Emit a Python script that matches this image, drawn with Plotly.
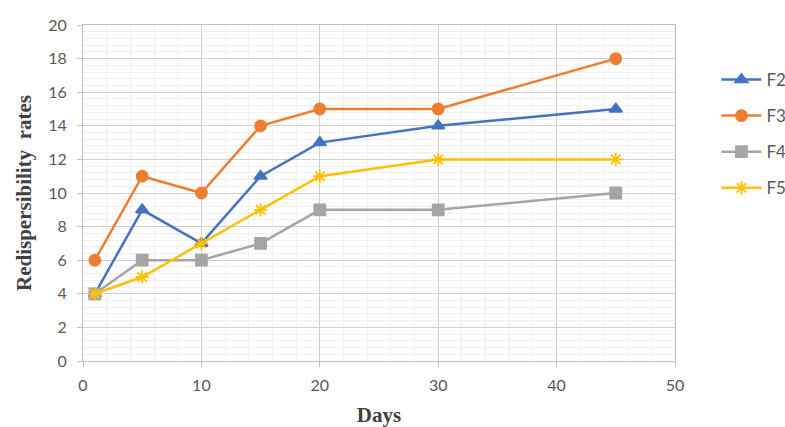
import plotly.graph_objects as go

# Storage time (days) and redispersibility readings per formulation
days = [1, 5, 10, 15, 20, 30, 45]
f2 = [4, 9, 7, 11, 13, 14, 15]
f3 = [6, 11, 10, 14, 15, 15, 18]
f4 = [4, 6, 6, 7, 9, 9, 10]
f5 = [4, 5, 7, 9, 11, 12, 12]

series = [
    ("F2", f2, "#4472C4", "triangle-up", 11),
    ("F3", f3, "#ED7D31", "circle", 11),
    ("F4", f4, "#A5A5A5", "square", 11),
    ("F5", f5, "#FFC000", "asterisk-open", 11),
]

fig = go.Figure()
for name, vals, color, symbol, size in series:
    fig.add_trace(go.Scatter(
        x=days, y=vals, name=name, legendgroup=name, mode="lines+markers",
        line=dict(color=color, width=2.5),
        marker=dict(symbol=symbol, size=size, color=color,
                    line=dict(color=color, width=1.8)),
    ))

tick_font = dict(family="Lato, Liberation Sans, sans-serif", size=16, color="#595959")
title_font = dict(family="Liberation Serif, Times New Roman, serif", size=21, color="#404040")

fig.update_layout(
    width=785, height=427,
    margin=dict(l=83, r=110, t=25, b=66, autoexpand=False),
    paper_bgcolor="white", plot_bgcolor="white",
    legend=dict(x=1.07, y=0.89, xanchor="left", yanchor="top",
                font=dict(family="Lato, Liberation Sans, sans-serif", size=17, color="#595959"),
                tracegroupgap=11, itemwidth=40, bgcolor="rgba(0,0,0,0)"),
)
fig.update_xaxes(
    range=[0, 50], dtick=10, tick0=0,
    showgrid=True, gridcolor="#d0d0d0", gridwidth=1,
    minor=dict(dtick=2, showgrid=True, gridcolor="#f0f0f0", gridwidth=1),
    showline=True, linecolor="#bfbfbf", linewidth=1, mirror=True,
    ticks="outside", ticklen=5, tickcolor="#bfbfbf", ticklabelstandoff=5,
    tickfont=tick_font, zeroline=False, automargin=False,
    title=dict(text="<b>Days</b>", font=title_font, standoff=22),
)
fig.update_yaxes(
    range=[0, 20], dtick=2, tick0=0,
    showgrid=True, gridcolor="#d0d0d0", gridwidth=1,
    minor=dict(dtick=0.4, showgrid=True, gridcolor="#f0f0f0", gridwidth=1),
    showline=True, linecolor="#bfbfbf", linewidth=1, mirror=True,
    ticks="outside", ticklen=5, tickcolor="#bfbfbf", ticklabelstandoff=7,
    tickfont=tick_font, zeroline=False, automargin=False,
    title=dict(text="<b>Redispersibility  rates</b>", font=title_font, standoff=10),
)

fig.write_html("out.html")
